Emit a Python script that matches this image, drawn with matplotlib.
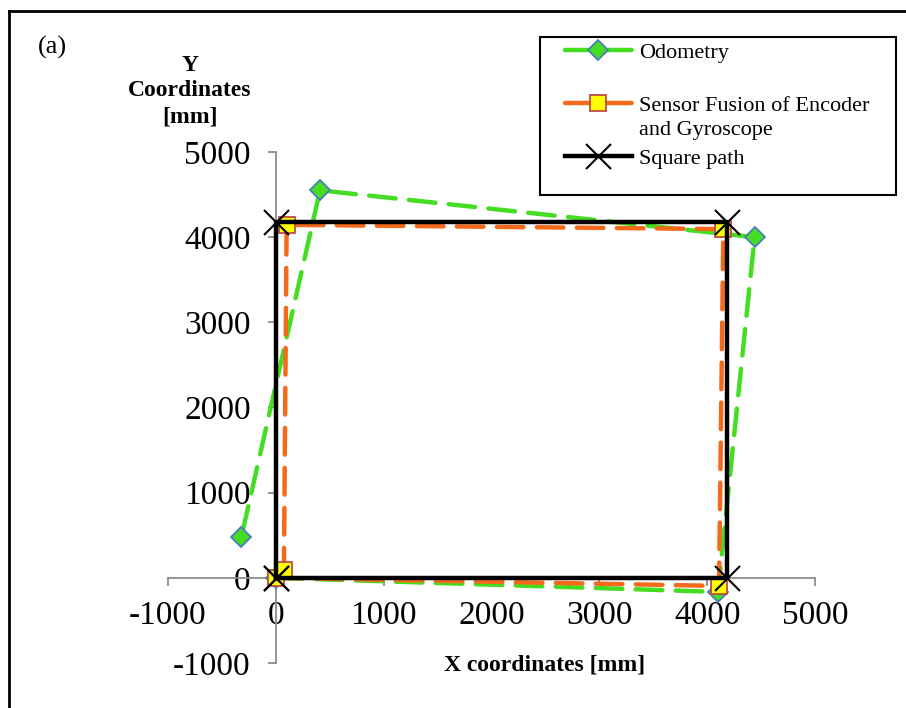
import matplotlib.pyplot as plt
from matplotlib.lines import Line2D
from matplotlib.patches import Rectangle

plt.rcParams["font.family"] = ["Liberation Serif", "DejaVu Serif"]
plt.rcParams["axes.unicode_minus"] = False

# Odometry estimate (mm)
odo_x = [0, 4100, 4440, 410, -320]
odo_y = [0, -165, 4000, 4550, 480]

# Sensor fusion of encoder and gyroscope (mm)
fus_x = [0, 4110, 4150, 100, 75]
fus_y = [0, -95, 4095, 4145, 95]

# Reference square path (mm)
sq_x = [0, 4180, 4180, 0, 0]
sq_y = [0, 0, 4180, 4180, 0]

ticks = [-1000, 0, 1000, 2000, 3000, 4000, 5000]

W, H = 906, 708
fig = plt.figure(figsize=(W / 100, H / 100), dpi=100)
ax = fig.add_axes([168 / W, 1 - 663 / H, 647 / W, 511 / H])

ax.plot(odo_x, odo_y, color="#44dd22", lw=3.2, linestyle=(0, (6, 3)),
        dash_capstyle="round", marker="D", markersize=10,
        markerfacecolor="#44dd22", markeredgecolor="#4a7ebb",
        markeredgewidth=1.3, label="Odometry", zorder=3)
ax.plot(fus_x, fus_y, color="#f5691a", lw=3.2, linestyle=(0, (6, 3)),
        dash_capstyle="round", marker="s", markersize=12,
        markerfacecolor="#ffff00", markeredgecolor="#be4b48",
        markeredgewidth=1.3, label="Sensor Fusion of Encoder", zorder=4)
ax.plot(sq_x, sq_y, color="black", lw=3.2, marker="x", markersize=18,
        markeredgewidth=1.5, label="Square path", zorder=5)

ax.set_xlim(-1000, 5000)
ax.set_ylim(-1000, 5000)
ax.set_xticks(ticks)
ax.set_yticks(ticks)

for side in ["top", "right"]:
    ax.spines[side].set_visible(False)
for side in ["left", "bottom"]:
    ax.spines[side].set_position(("data", 0))
    ax.spines[side].set_color("#8c8c8c")
    ax.spines[side].set_linewidth(1.3)
ax.tick_params(direction="out", length=6, width=1.3, color="#8c8c8c",
               labelsize=24)
ax.tick_params(axis="y", pad=12)
ax.tick_params(axis="x", pad=10)
ax.patch.set_visible(False)

fig.text(545 / W, 1 - 665 / H, "X coordinates [mm]", fontsize=17,
         fontweight="bold", ha="center", va="center")
fig.text(190 / W, 1 - 91 / H, "Y\nCoordinates\n[mm]", fontsize=17,
         fontweight="bold", ha="center", va="center", linespacing=1.3)
fig.text(38 / W, 1 - 47 / H, "(a)", fontsize=19, ha="left", va="center")

# legend: handles and single-line labels, frame drawn separately
leg = fig.legend(loc="upper left", bbox_to_anchor=(565 / W, 1 - 42 / H),
                 fontsize=16, frameon=False, handlelength=3.0,
                 labelspacing=1.47, borderpad=0, handletextpad=0.35,
                 borderaxespad=0)
fig.text(639 / W, 1 - 130 / H, "and Gyroscope", fontsize=16,
         ha="left", va="center")
fig.add_artist(Rectangle((540 / W, 1 - 195 / H), 356 / W, 158 / H,
                         transform=fig.transFigure, fill=False,
                         edgecolor="black", lw=1.5))

# outer frame of the figure panel
fig.add_artist(Line2D([9 / W, 1], [1 - 11 / H, 1 - 11 / H],
                      transform=fig.transFigure, color="black", lw=2))
fig.add_artist(Line2D([9 / W, 9 / W], [0, 1 - 11 / H],
                      transform=fig.transFigure, color="black", lw=2))

fig.savefig("out.png", dpi=100)
